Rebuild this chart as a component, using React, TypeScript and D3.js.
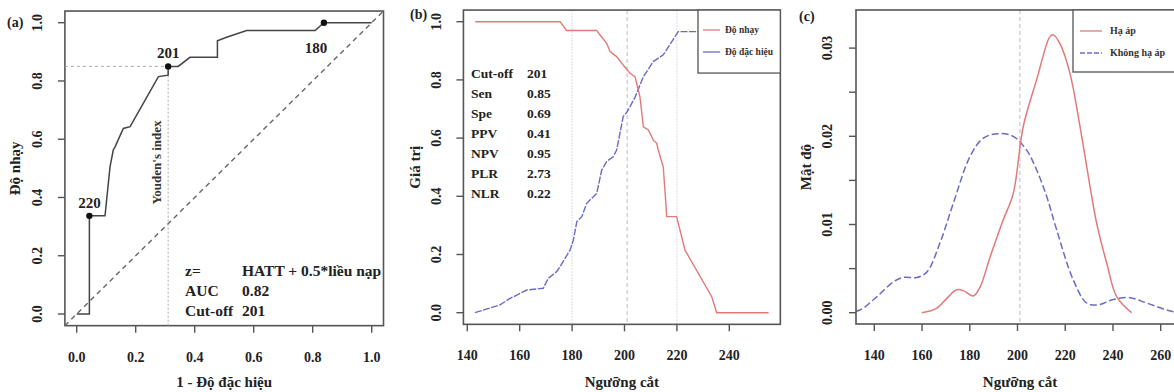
import React from "react";
import * as d3 from "d3";

const W = 1174;
const H = 392;
const FONT = "'Liberation Serif', 'Times New Roman', serif";
const AXIS = "#555";

// ---- (a) ROC curve ----
const rocFpr = [0, 0.043, 0.043, 0.096, 0.113, 0.124, 0.13, 0.158, 0.181, 0.277, 0.31, 0.31, 0.344, 0.384, 0.477, 0.477, 0.508, 0.576, 0.808, 0.838, 1];
const rocTpr = [0, 0, 0.337, 0.337, 0.506, 0.563, 0.574, 0.637, 0.643, 0.815, 0.82, 0.85, 0.85, 0.881, 0.881, 0.938, 0.95, 0.973, 0.973, 1, 1];
const markFpr = [0.043, 0.31, 0.838];
const markTpr = [0.337, 0.85, 1];
const markText = ["220", "201", "180"];
const rocTicks = [0, 0.2, 0.4, 0.6, 0.8, 1];
const rocInfoLabels = ["z=", "AUC", "Cut-off"];
const rocInfoValues = ["HATT + 0.5*liều nạp", "0.82", "201"];
const youdenFpr = 0.31;
const youdenTpr = 0.85;

// ---- (b) sensitivity / specificity by cut-off ----
const senX = [143, 175.4, 177.9, 189.4, 190.6, 193.2, 194.5, 197, 199.5, 202.1, 204, 205.9, 207.2, 209.1, 211, 212.3, 212.9, 214.8, 215.6, 216.1, 219.9, 223.1, 233.3, 235.2, 255];
const senY = [1, 1, 0.97, 0.97, 0.955, 0.926, 0.897, 0.88, 0.851, 0.823, 0.811, 0.742, 0.639, 0.628, 0.593, 0.582, 0.559, 0.5, 0.4, 0.33, 0.33, 0.215, 0.055, 0, 0];
const speX = [142.9, 152.5, 156.3, 162.7, 169, 170.9, 174.1, 175.4, 179.2, 180.5, 181.8, 183.7, 185.6, 189.4, 191.3, 193.2, 195.7, 197, 199.5, 201, 204, 207.2, 211, 214.8, 220.5, 255];
const speY = [0, 0.027, 0.049, 0.078, 0.084, 0.118, 0.141, 0.158, 0.215, 0.25, 0.313, 0.33, 0.376, 0.41, 0.49, 0.52, 0.536, 0.559, 0.674, 0.69, 0.74, 0.811, 0.863, 0.886, 0.966, 0.966];
const cutTicks = [140, 160, 180, 200, 220, 240];
const valTicks = [0, 0.2, 0.4, 0.6, 0.8, 1];
const statLabels = ["Cut-off", "Sen", "Spe", "PPV", "NPV", "PLR", "NLR"];
const statValues = ["201", "0.85", "0.69", "0.41", "0.95", "2.73", "0.22"];
const refCuts = [180, 220];
const bestCut = 201;

// ---- (c) densities ----
const haX = [159.9, 166.1, 170.3, 174.5, 177.3, 181.5, 184.3, 188.5, 194, 198.2, 202.4, 208, 213.6, 215, 217.8, 222, 226.2, 230.4, 233.2, 237.4, 241.6, 247.8];
const haY = [0, 0.0005, 0.0016, 0.0026, 0.0025, 0.0019, 0.0029, 0.0063, 0.0105, 0.0135, 0.0211, 0.0264, 0.0313, 0.0315, 0.0305, 0.0271, 0.0211, 0.0143, 0.0101, 0.0056, 0.0018, 0];
const khongX = [128, 134, 141, 148, 152.2, 157.8, 162, 167.5, 173.1, 180.1, 185.7, 192, 198.2, 203.9, 208, 212.2, 216.4, 223.4, 229, 233.9, 240.1, 247.1, 254.1, 265.3, 272];
const khongY = [0, 0.0003, 0.0018, 0.0035, 0.004, 0.004, 0.0046, 0.0079, 0.0124, 0.0177, 0.0198, 0.0203, 0.02, 0.0184, 0.0162, 0.0132, 0.0094, 0.0037, 0.0011, 0.0009, 0.0015, 0.0017, 0.0011, 0.0001, 0];
const densXTicks = [140, 160, 180, 200, 220, 240, 260];
const densYTicks = [0, 0.005, 0.01, 0.015, 0.02, 0.025, 0.03];
const densYLabels = ["0.00", "", "0.01", "", "0.02", "", "0.03"];

const RED = "#e07a7a";
const BLUE = "#6b6bc4";

type Box = { x0: number; x1: number; y0: number; y1: number };

function Frame(props: {
  box: Box;
  x: d3.ScaleLinear<number, number>;
  y: d3.ScaleLinear<number, number>;
  xTicks: number[];
  yTicks: number[];
  xFmt: (v: number, i: number) => string;
  yFmt: (v: number, i: number) => string;
  xTitle: string;
  yTitle: string;
  yTickX: number;
  yTitleX: number;
  tag: string;
  tagX: number;
  tagY: number;
}) {
  const { box, x, y } = props;
  return (
    <g fontFamily={FONT} fontWeight="bold" fill="#222">
      <rect x={box.x0} y={box.y0} width={box.x1 - box.x0} height={box.y1 - box.y0} fill="none" stroke={AXIS} strokeWidth={1.6} />
      {props.xTicks.map((t, i) => (
        <g key={"x" + i}>
          <line x1={x(t)} x2={x(t)} y1={box.y1} y2={box.y1 + 7} stroke={AXIS} strokeWidth={1.4} />
          <text x={x(t)} y={box.y1 + 36} textAnchor="middle" fontSize={14}>{props.xFmt(t, i)}</text>
        </g>
      ))}
      {props.yTicks.map((t, i) => (
        <g key={"y" + i}>
          <line x1={box.x0} x2={box.x0 - 7} y1={y(t)} y2={y(t)} stroke={AXIS} strokeWidth={1.4} />
          <text transform={`translate(${props.yTickX},${y(t)}) rotate(-90)`} textAnchor="middle" fontSize={14}>{props.yFmt(t, i)}</text>
        </g>
      ))}
      <text x={(box.x0 + box.x1) / 2} y={387} textAnchor="middle" fontSize={15}>{props.xTitle}</text>
      <text transform={`translate(${props.yTitleX},${(box.y0 + box.y1) / 2}) rotate(-90)`} textAnchor="middle" fontSize={15}>{props.yTitle}</text>
      <text x={props.tagX} y={props.tagY} fontSize={14}>{props.tag}</text>
    </g>
  );
}

function PanelA() {
  const x = d3.scaleLinear().domain([0, 1]).range([76.7, 371.7]);
  const y = d3.scaleLinear().domain([0, 1]).range([314, 22.7]);
  const box = { x0: x(-0.04), x1: x(1.04), y0: y(1.04), y1: y(-0.04) };
  const line = d3.line<number>().x((d) => x(d)).y((_, i) => y(rocTpr[i]));
  const fmt = d3.format(".1f");
  return (
    <g>
      <Frame box={box} x={x} y={y} xTicks={rocTicks} yTicks={rocTicks} xFmt={fmt} yFmt={fmt}
        xTitle="1 - Độ đặc hiệu" yTitle="Độ nhạy" yTickX={42} yTitleX={20} tag="(a)" tagX={7} tagY={27} />
      <line x1={x(-0.04)} y1={y(-0.04)} x2={x(1.04)} y2={y(1.04)} stroke="#666" strokeWidth={1.4} strokeDasharray="5,4" />
      <line x1={box.x0} x2={x(youdenFpr)} y1={y(youdenTpr)} y2={y(youdenTpr)} stroke="#aaa" strokeWidth={1} strokeDasharray="3,3" />
      <line x1={x(youdenFpr)} x2={x(youdenFpr)} y1={box.y1} y2={y(youdenTpr)} stroke="#aaa" strokeWidth={1} strokeDasharray="2,2" />
      <text transform={`translate(${x(youdenFpr) - 7},${y(0.52)}) rotate(-90)`} textAnchor="middle" fontFamily={FONT} fontWeight="bold" fontSize={13} fill="#333">Youden's index</text>
      <path d={line(rocFpr) || ""} fill="none" stroke="#444" strokeWidth={1.5} />
      {markFpr.map((f, i) => (
        <g key={i}>
          <circle cx={x(f)} cy={y(markTpr[i])} r={3.2} fill="#111" />
          <text x={x(f) + (i === 2 ? -8 : 0)} y={y(markTpr[i]) + (i === 2 ? 30 : -8)} textAnchor="middle" fontFamily={FONT} fontWeight="bold" fontSize={15} fill="#222">{markText[i]}</text>
        </g>
      ))}
      {rocInfoLabels.map((l, i) => (
        <g key={l} fontFamily={FONT} fontWeight="bold" fontSize={15.5} fill="#222">
          <text x={185} y={276 + i * 20}>{l}</text>
          <text x={242} y={276 + i * 20}>{rocInfoValues[i]}</text>
        </g>
      ))}
    </g>
  );
}

function PanelB() {
  const x = d3.scaleLinear().domain([140, 240]).range([467.3, 729.3]);
  const y = d3.scaleLinear().domain([0, 1]).range([312.7, 21.7]);
  const box = { x0: x(138.52), x1: x(259.48), y0: y(1.04), y1: y(-0.04) };
  const sen = d3.line<number>().x((d) => x(d)).y((_, i) => y(senY[i]));
  const spe = d3.line<number>().x((d) => x(d)).y((_, i) => y(speY[i]));
  const fmt = d3.format(".1f");
  const lx = 698;
  return (
    <g>
      {refCuts.map((c) => (
        <line key={c} x1={x(c)} x2={x(c)} y1={box.y0} y2={box.y1} stroke="#ddd" strokeWidth={1} strokeDasharray="2,1" />
      ))}
      <line x1={x(bestCut)} x2={x(bestCut)} y1={box.y0} y2={box.y1} stroke="#bbb" strokeWidth={1} strokeDasharray="4,3" />
      <path d={spe(speX) || ""} fill="none" stroke={BLUE} strokeWidth={1.4} strokeDasharray="7,1.5" />
      <path d={sen(senX) || ""} fill="none" stroke={RED} strokeWidth={1.4} />
      <Frame box={box} x={x} y={y} xTicks={cutTicks} yTicks={valTicks} xFmt={(v) => String(v)} yFmt={fmt}
        xTitle="Ngưỡng cắt" yTitle="Giá trị" yTickX={441} yTitleX={420} tag="(b)" tagX={410} tagY={19} />
      {statLabels.map((l, i) => (
        <g key={l} fontFamily={FONT} fontWeight="bold" fontSize={13.5} fill="#222">
          <text x={471} y={78 + i * 20}>{l}</text>
          <text x={527} y={78 + i * 20}>{statValues[i]}</text>
        </g>
      ))}
      <rect x={lx} y={box.y0} width={box.x1 - lx} height={63} fill="#fff" stroke={AXIS} strokeWidth={1.3} />
      <line x1={lx + 5} x2={lx + 22} y1={30} y2={30} stroke={RED} strokeWidth={1.3} />
      <line x1={lx + 5} x2={lx + 22} y1={52} y2={52} stroke={BLUE} strokeWidth={1.3} />
      <g fontFamily={FONT} fontWeight="bold" fontSize={9.5} fill="#333">
        <text x={lx + 27} y={33}>Độ nhạy</text>
        <text x={lx + 27} y={55}>Độ đặc hiệu</text>
      </g>
    </g>
  );
}

function PanelC() {
  const x = d3.scaleLinear().domain([140, 260]).range([874.3, 1160.7]);
  const y = d3.scaleLinear().domain([0, 0.03]).range([312.7, 48.1]);
  const box = { x0: 856, x1: 1184, y0: 10, y1: 324 };
  const curve = d3.curveCatmullRom;
  const ha = d3.line<number>().x((d) => x(d)).y((_, i) => y(haY[i])).curve(curve);
  const kh = d3.line<number>().x((d) => x(d)).y((_, i) => y(khongY[i])).curve(curve);
  const lx = 1073;
  return (
    <g>
      <defs>
        <clipPath id="clipC">
          <rect x={box.x0} y={box.y0} width={box.x1 - box.x0} height={box.y1 - box.y0} />
        </clipPath>
      </defs>
      <line x1={x(bestCut)} x2={x(bestCut)} y1={box.y0} y2={box.y1} stroke="#bbb" strokeWidth={1} strokeDasharray="4,3" />
      <g clipPath="url(#clipC)">
        <path d={kh(khongX) || ""} fill="none" stroke={BLUE} strokeWidth={1.5} strokeDasharray="7,3" />
        <path d={ha(haX) || ""} fill="none" stroke={RED} strokeWidth={1.5} />
      </g>
      <Frame box={box} x={x} y={y} xTicks={densXTicks} yTicks={densYTicks} xFmt={(v) => String(v)} yFmt={(_, i) => densYLabels[i]}
        xTitle="Ngưỡng cắt" yTitle="Mật độ" yTickX={832} yTitleX={811} tag="(c)" tagX={799} tagY={21} />
      <rect x={lx} y={box.y0} width={box.x1 - lx} height={62} fill="#fff" stroke={AXIS} strokeWidth={1.3} />
      <line x1={lx + 7} x2={lx + 29} y1={31} y2={31} stroke={RED} strokeWidth={1.3} />
      <line x1={lx + 7} x2={lx + 29} y1={53} y2={53} stroke={BLUE} strokeWidth={1.3} strokeDasharray="5,2" />
      <g fontFamily={FONT} fontWeight="bold" fontSize={10} fill="#333">
        <text x={lx + 37} y={34}>Hạ áp</text>
        <text x={lx + 37} y={56}>Không hạ áp</text>
      </g>
    </g>
  );
}

export default function App() {
  return (
    <svg width={W} height={H} style={{ position: "absolute", left: 0, top: 0, background: "#fff" }}>
      <rect width={W} height={H} fill="#fff" />
      <PanelA />
      <PanelB />
      <PanelC />
    </svg>
  );
}
